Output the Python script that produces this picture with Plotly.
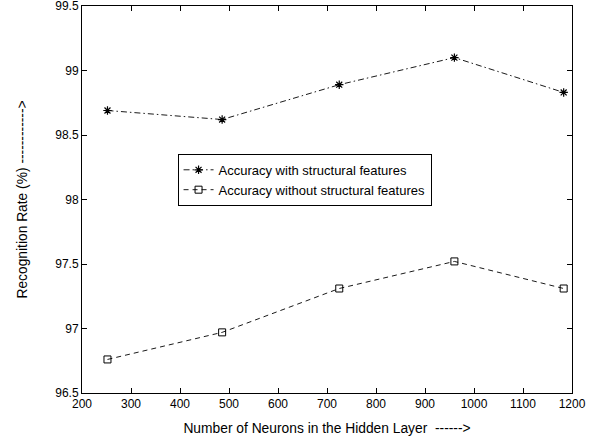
import plotly.graph_objects as go

neurons = [252, 486, 725, 960, 1183]
acc_with = [98.69, 98.62, 98.89, 99.10, 98.83]
acc_without = [96.76, 96.97, 97.31, 97.52, 97.31]

x_ticks = [200, 300, 400, 500, 600, 700, 800, 900, 1000, 1100, 1200]
y_ticks = [96.5, 97, 97.5, 98, 98.5, 99, 99.5]
y_tick_text = ["96.5", "97", "97.5", "98", "98.5", "99", "99.5"]

font = "Liberation Sans, Arial, Helvetica, sans-serif"

fig = go.Figure()
fig.add_trace(go.Scatter(
    x=neurons, y=acc_with, mode="lines+markers",
    name="Accuracy with structural features",
    line=dict(color="black", width=0.9, dash="6px,3px,1.5px,3px"),
    marker=dict(symbol="asterisk-open", size=7, color="black", line=dict(color="black", width=1.2)),
))
fig.add_trace(go.Scatter(
    x=neurons, y=acc_without, mode="lines+markers",
    name="Accuracy without structural features",
    line=dict(color="black", width=0.9, dash="5px,4px"),
    marker=dict(symbol="square-open", size=7, color="black", line=dict(color="black", width=1)),
))

axis_common = dict(
    showgrid=False, zeroline=False, showline=True, linecolor="black", linewidth=1,
    mirror="ticks", ticks="inside", ticklen=5, tickcolor="black", tickwidth=1,
    tickfont=dict(family=font, size=12, color="black"),
    ticklabeloverflow="allow", automargin=False,
)

fig.update_layout(
    width=600, height=444,
    margin=dict(l=82, r=28, t=6, b=51),
    paper_bgcolor="white", plot_bgcolor="white",
    font=dict(family=font, color="black"),
    xaxis=dict(range=[200, 1200.0001], tickvals=x_ticks,
               title=dict(text="Number of Neurons in the Hidden Layer  ------>", font=dict(size=13.8), standoff=12),
               **axis_common),
    yaxis=dict(range=[96.4999, 99.5001], tickvals=y_ticks, ticktext=y_tick_text,
               title=dict(text="Recognition Rate (%) ------------>", font=dict(size=13.8), standoff=24),
               **axis_common),
    legend=dict(x=0.195, y=0.618, xanchor="left", yanchor="top",
                bgcolor="white", bordercolor="black", borderwidth=1,
                font=dict(family=font, size=13, color="black"),
                tracegroupgap=0, itemwidth=30),
    showlegend=True,
)

fig.write_html("out.html")
